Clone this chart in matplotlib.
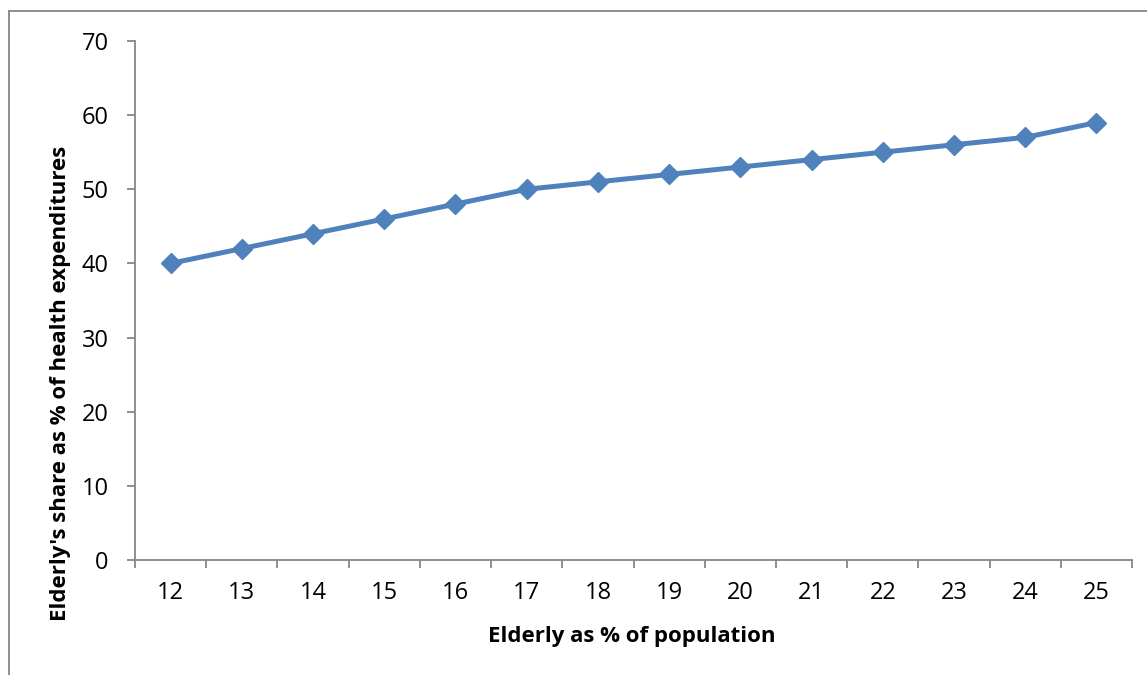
import matplotlib.pyplot as plt
from matplotlib.lines import Line2D

# Data
elderly_pct_pop = [12, 13, 14, 15, 16, 17, 18, 19, 20, 21, 22, 23, 24, 25]
elderly_share_health = [40, 42, 44, 46, 48, 50, 51, 52, 53, 54, 55, 56, 57, 59]
y_ticks = [0, 10, 20, 30, 40, 50, 60, 70]

plt.rcParams['font.family'] = ['Open Sans', 'DejaVu Sans']
axis_gray = '#868686'

fig = plt.figure(figsize=(11.47, 6.75), dpi=100)
ax = fig.add_axes([0.1177, 0.1704, 0.8693, 0.7689])

x = list(range(len(elderly_pct_pop)))
ax.plot(x, elderly_share_health, color='#4F81BD', linewidth=3.6,
        marker='D', markersize=10, markerfacecolor='#4F81BD',
        markeredgecolor='#4F81BD')

# Category axis: labels at centres, tick marks between categories
ax.set_xlim(-0.5, len(x) - 0.5)
ax.set_xticks([i - 0.5 for i in range(len(x) + 1)])
ax.set_xticklabels([])
ax.set_xticks(x, minor=True)
ax.set_xticklabels([str(v) for v in elderly_pct_pop], minor=True, fontsize=17)
ax.tick_params(axis='x', which='major', direction='out', length=6, width=1.3, color=axis_gray)
ax.tick_params(axis='x', which='minor', length=0, pad=15)

ax.set_ylim(0, 70)
ax.set_yticks(y_ticks)
ax.set_yticklabels([str(v) for v in y_ticks], fontsize=17)
ax.tick_params(axis='y', direction='out', length=6, width=1.3, color=axis_gray, pad=13)

for side in ['top', 'right']:
    ax.spines[side].set_visible(False)
for side in ['left', 'bottom']:
    ax.spines[side].set_color(axis_gray)
    ax.spines[side].set_linewidth(1.3)

ax.set_xlabel('Elderly as % of population', fontsize=16, fontweight='bold')
ax.xaxis.set_label_coords(0.4985, -0.127)
ax.set_ylabel("Elderly's share as % of health expenditures", fontsize=16, fontweight='bold')
ax.yaxis.set_label_coords(-0.064, 0.341)

# chart frame (left and top edges visible)
fig.add_artist(Line2D([9 / 1147, 9 / 1147], [0, 1 - 11 / 675], transform=fig.transFigure,
                      color=axis_gray, linewidth=1.3))
fig.add_artist(Line2D([9 / 1147, 1], [1 - 11 / 675, 1 - 11 / 675], transform=fig.transFigure,
                      color=axis_gray, linewidth=1.3))

fig.savefig('out.png', dpi=100)
